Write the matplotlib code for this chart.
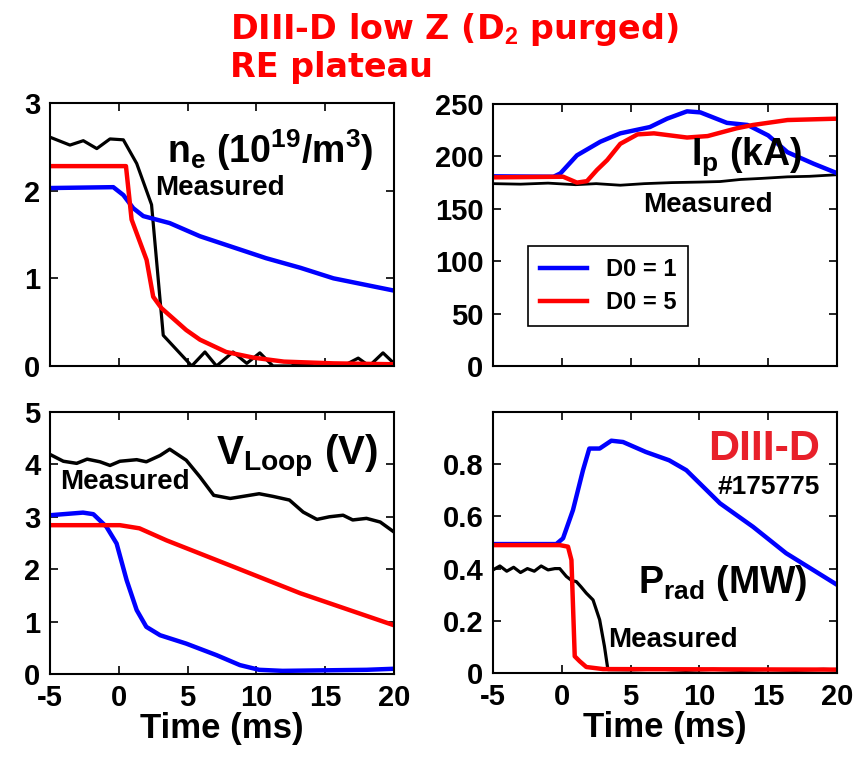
import numpy as np
import matplotlib
matplotlib.use("Agg")
import matplotlib.pyplot as plt

plt.rcParams['font.family'] = ['Liberation Sans', 'DejaVu Sans']
plt.rcParams['font.weight'] = 'bold'
plt.rcParams['axes.labelweight'] = 'bold'
plt.rcParams['mathtext.fontset'] = 'custom'
plt.rcParams['mathtext.rm'] = 'Liberation Sans:bold'
plt.rcParams['mathtext.bf'] = 'Liberation Sans:bold'
plt.rcParams['mathtext.it'] = 'Liberation Sans:bold'
plt.rcParams['mathtext.default'] = 'bf'
plt.rcParams['axes.unicode_minus'] = False

# ---- n_e (10^19/m^3)
ne_meas_t = [-5, -3.55, -2.58, -1.6, -0.64, 0.33, 1.3, 2.38, 3.23, 5.3, 6.26, 7.1, 8.3, 9.3,
             10.25, 11.2, 12.5, 13.3, 14.2, 15.2, 16.3, 17.4, 18.2, 19.2, 20]
ne_meas = [2.61, 2.52, 2.57, 2.48, 2.59, 2.58, 2.31, 1.84, 0.35, 0.0, 0.16, 0.0, 0.16, 0.03,
           0.15, 0.0, 0.0, 0.03, 0.0, 0.0, 0.0, 0.09, 0.0, 0.15, 0.03]
ne_d05_t = [-5, 0.52, 0.93, 2.02, 2.5, 3.1, 4.9, 5.9, 7.8, 9.8, 12, 15.6, 20]
ne_d05 = [2.28, 2.28, 1.67, 1.21, 0.79, 0.66, 0.41, 0.30, 0.16, 0.095, 0.05, 0.03, 0.02]
ne_d01_t = [-5, -0.4, 0.33, 1.05, 1.78, 3.7, 5.9, 10.7, 13.2, 15.6, 20]
ne_d01 = [2.03, 2.04, 1.95, 1.80, 1.71, 1.63, 1.48, 1.23, 1.12, 1.0, 0.86]

# ---- Ip (kA)
ip_meas_t = [-5, -3, -1, 1, 2.5, 4.25, 6, 8, 10, 11.5, 13, 14.5, 16.4, 18, 20]
ip_meas = [174, 173.5, 174.5, 173, 174, 172.5, 174, 175, 175.5, 176, 178, 179, 180.5, 181, 182.5]
ip_d01_t = [-5, -0.6, -0.1, 1.1, 2.8, 4.25, 6.4, 7.65, 9.1, 10.07, 12, 13.5, 15, 16.4, 18.3, 20]
ip_d01 = [181, 180.6, 183.8, 201, 214, 222, 228, 236, 243, 242, 232, 230, 220, 204, 193, 184]
ip_d05_t = [-5, 0.1, 1.1, 1.83, 2.55, 3.3, 4.25, 5.5, 6.7, 9.1, 10.6, 12.7, 13.9, 16.4, 20]
ip_d05 = [180, 180.6, 175, 176.4, 187, 196.5, 212, 221, 222, 218, 219.4, 226.8, 230, 234.7, 236]

# ---- V_Loop (V)
vl_meas_t = [-5, -4.03, -3.06, -2.3, -1.37, -0.64, 0.08, 1.3, 2.0, 3.0, 3.7, 4.9, 5.9, 6.9,
             8.1, 8.8, 10.2, 11.2, 12.4, 13.4, 14.4, 15.3, 16.3, 17, 18, 19, 20]
vl_meas = [4.19, 4.06, 4.02, 4.1, 4.05, 3.98, 4.06, 4.09, 4.05, 4.17, 4.29, 4.08, 3.76, 3.41,
           3.35, 3.38, 3.44, 3.39, 3.32, 3.09, 2.95, 3.0, 3.03, 2.94, 2.97, 2.9, 2.71]
vl_d05_t = [-5, 0.08, 1.5, 3.47, 8.3, 13.2, 20]
vl_d05 = [2.84, 2.84, 2.78, 2.55, 2.05, 1.54, 0.93]
vl_d01_t = [-5, -2.6, -1.85, -0.9, -0.16, 0.57, 1.3, 2.0, 3.0, 4.9, 7.1, 8.8, 10.2, 11.9, 18, 20]
vl_d01 = [3.03, 3.08, 3.05, 2.81, 2.49, 1.79, 1.22, 0.90, 0.74, 0.58, 0.36, 0.17, 0.08, 0.06, 0.08, 0.10]

# ---- Prad (MW)
pr_d01_t = [-5, -0.4, 0.09, 0.81, 1.54, 2.0, 2.75, 3.6, 4.45, 6.1, 7.8, 9.05, 11.5, 13.9, 16.3, 20]
pr_d01 = [0.494, 0.494, 0.516, 0.624, 0.777, 0.86, 0.86, 0.89, 0.885, 0.847, 0.815, 0.777,
          0.65, 0.56, 0.459, 0.338]
pr_d05_t = [-5, -0.15, 0.45, 0.7, 0.94, 1.3, 1.78, 3.0, 20]
pr_d05 = [0.49, 0.49, 0.484, 0.433, 0.064, 0.045, 0.023, 0.015, 0.013]
pr_meas_t = [-5, -4.5, -4, -3.5, -3, -2.5, -2, -1.5, -1, -0.5, -0.15, 0.33, 0.7, 1.06, 1.4,
             1.78, 2.27, 2.75, 3.1, 3.35, 5, 7, 9, 11, 13, 15, 17, 19, 20]
pr_meas = [0.395, 0.41, 0.39, 0.405, 0.385, 0.40, 0.39, 0.41, 0.395, 0.40, 0.40, 0.37, 0.355,
           0.35, 0.33, 0.306, 0.28, 0.204, 0.102, 0.013, 0.012, 0.015, 0.01, 0.014, 0.01,
           0.013, 0.01, 0.014, 0.012]

BLUE = '#0000ff'
RED = '#ff0000'
tick_fs = 21
lab_fs = 27
meas_fs = 20

fig = plt.figure(figsize=(8.63, 7.61), dpi=100)
W, H = 863, 761


def make_ax(x0, y0, x1, y1):
    ax = fig.add_axes([x0 / W, 1 - y1 / H, (x1 - x0) / W, (y1 - y0) / H])
    ax.set_xlim(-5, 20)
    ax.set_xticks([-5, 0, 5, 10, 15, 20])
    ax.tick_params(direction='in', top=True, right=True, length=6, width=1.2,
                   labelsize=tick_fs, pad=7)
    for s in ax.spines.values():
        s.set_linewidth(1.5)
    return ax


ax1 = make_ax(50, 103, 394, 366)
ax2 = make_ax(493, 104, 837, 366)
ax3 = make_ax(50, 412, 394, 674)
ax4 = make_ax(493, 412, 837, 673)

# n_e
ax1.plot(ne_meas_t, ne_meas, color='black', lw=2.3)
ax1.plot(ne_d01_t, ne_d01, color=BLUE, lw=3.2)
ax1.plot(ne_d05_t, ne_d05, color=RED, lw=3.2)
ax1.set_ylim(0, 3)
ax1.set_yticks([0, 1, 2, 3])
ax1.set_xticklabels([])
ax1.text(0.94, 0.82, r'n$_e$ (10$^{19}$/m$^3$)', transform=ax1.transAxes, ha='right',
         va='center', fontsize=lab_fs)
ax1.text(0.305, 0.677, 'Measured', transform=ax1.transAxes, ha='left', va='center',
         fontsize=meas_fs)

# Ip
ax2.plot(ip_meas_t, ip_meas, color='black', lw=2)
l1, = ax2.plot(ip_d01_t, ip_d01, color=BLUE, lw=3.2)
l2, = ax2.plot(ip_d05_t, ip_d05, color=RED, lw=3.2)
ax2.set_ylim(0, 250)
ax2.set_yticks([0, 50, 100, 150, 200, 250])
ax2.set_xticklabels([])
ax2.text(0.90, 0.80, r'I$_p$ (kA)', transform=ax2.transAxes, ha='right', va='center',
         fontsize=lab_fs)
ax2.text(0.435, 0.614, 'Measured', transform=ax2.transAxes, ha='left', va='center',
         fontsize=meas_fs)
leg = ax2.legend([l1, l2], ['D0 = 1', 'D0 = 5'], loc='upper left',
                 bbox_to_anchor=(0.102, 0.458), borderaxespad=0, fontsize=17, fancybox=False,
                 edgecolor='black', framealpha=1, handlelength=2.0, borderpad=0.5,
                 labelspacing=0.45)
leg.get_frame().set_linewidth(1.2)

# V loop
ax3.plot(vl_meas_t, vl_meas, color='black', lw=2.5)
ax3.plot(vl_d01_t, vl_d01, color=BLUE, lw=3.2)
ax3.plot(vl_d05_t, vl_d05, color=RED, lw=3.2)
ax3.set_ylim(0, 5)
ax3.set_yticks([0, 1, 2, 3, 4, 5])
ax3.set_xlabel('Time (ms)', fontsize=25, labelpad=0)
ax3.text(0.955, 0.83, r'V$_{Loop}$ (V)', transform=ax3.transAxes, ha='right', va='center',
         fontsize=29)
ax3.text(0.03, 0.733, 'Measured', transform=ax3.transAxes, ha='left', va='center',
         fontsize=meas_fs)

# Prad
ax4.plot(pr_meas_t, pr_meas, color='black', lw=2.3)
ax4.plot(pr_d01_t, pr_d01, color=BLUE, lw=3.2)
ax4.plot(pr_d05_t, pr_d05, color=RED, lw=3.2)
ax4.set_ylim(0, 1.0)
ax4.set_yticks([0, 0.2, 0.4, 0.6, 0.8])
ax4.set_yticklabels(['0', '0.2', '0.4', '0.6', '0.8'])
ax4.set_xlabel('Time (ms)', fontsize=25, labelpad=0)
ax4.text(0.95, 0.86, 'DIII-D', transform=ax4.transAxes, ha='right', va='center',
         fontsize=31, color='#e8202a')
ax4.text(0.95, 0.713, '#175775', transform=ax4.transAxes, ha='right', va='center',
         fontsize=19)
ax4.text(0.915, 0.345, r'P$_{rad}$ (MW)', transform=ax4.transAxes, ha='right', va='center',
         fontsize=lab_fs)
ax4.text(0.335, 0.126, 'Measured', transform=ax4.transAxes, ha='left', va='center',
         fontsize=meas_fs)

# title
fig.text(230 / W, 1 - 30 / H, r'DIII-D low Z (D$_2$ purged)', ha='left', va='center',
         fontsize=24, color=RED, family=['DejaVu Sans'], fontweight='bold')
fig.text(230 / W, 1 - 68 / H, 'RE plateau', ha='left', va='center',
         fontsize=24, color=RED, family=['DejaVu Sans'], fontweight='bold')

fig.savefig('out.png', dpi=100)
